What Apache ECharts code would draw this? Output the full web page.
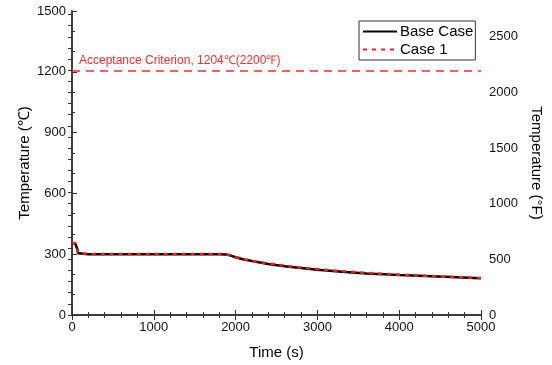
<!DOCTYPE html>
<html>
<head>
<meta charset="utf-8">
<script src="https://cdn.jsdelivr.net/npm/echarts@6/dist/echarts.min.js"></script>
<style>
  html, body { margin: 0; padding: 0; background: #fff; }
  #chart { width: 552px; height: 365px; }
</style>
</head>
<body>
<div id="chart"></div>
<script>
// time (s) and temperature (°C)
const baseTime = [0, 40, 55, 65, 75, 90, 200, 600, 1000, 1400, 1800, 1880, 1950, 2000, 2100, 2200, 2400, 2600, 2800, 3000, 3300, 3600, 4000, 4400, 4700, 5000];
const baseTemp = [355, 353, 348, 325, 305, 300, 300, 300, 300, 300, 300, 299, 292, 285, 274, 266, 252, 241, 232, 223, 213, 205, 197, 191, 186, 181];
const case1Time = [0, 40, 55, 65, 75, 90, 200, 600, 1000, 1400, 1800, 1880, 1950, 2000, 2100, 2200, 2400, 2600, 2800, 3000, 3300, 3600, 4000, 4400, 4700, 5000];
const case1Temp = [356, 354, 349, 326, 306, 301, 301, 301, 301, 301, 301, 300, 293, 286, 275, 267, 254, 243, 234, 226, 216, 208, 199, 192, 187, 182];
const criterionC = 1204;
const fMax = 2732; // 1500 °C in °F, right axis shares the same span

const zip = (xs, ys) => xs.map((x, i) => [x, ys[i]]);

const chart = echarts.init(document.getElementById('chart'));
const font = 'Liberation Sans, Arial, sans-serif';
const axisColor = '#333';
const plain = v => String(v);

chart.setOption({
  animation: false,
  textStyle: { fontFamily: font },
  grid: { left: 72, right: 68, top: 11, bottom: 50 },
  legend: {
    orient: 'vertical',
    left: 359,
    top: 21,
    padding: [3, 2, 3, 3],
    itemGap: 3,
    itemWidth: 34,
    itemHeight: 14,
    borderColor: '#333',
    borderWidth: 1,
    itemStyle: { opacity: 0 },
    textStyle: { fontSize: 15, color: '#000', fontFamily: font, padding: [0, 0, 0, -2] },
    data: ['Base Case', 'Case 1']
  },
  xAxis: [
    {
      type: 'value', min: 0, max: 5000, interval: 1000,
      name: 'Time (s)', nameLocation: 'middle', nameGap: 30,
      nameTextStyle: { fontSize: 15, color: '#000' },
      axisLine: { lineStyle: { color: axisColor, width: 1.5 } },
      axisTick: { inside: true, length: 5, lineStyle: { color: axisColor } },
      minorTick: { show: true, splitNumber: 5, length: 3, lineStyle: { color: axisColor } },
      axisLabel: { fontSize: 13, color: '#111', margin: 6, formatter: plain },
      splitLine: { show: false }
    },
    {
      type: 'value', position: 'top', min: 0, max: 5000, interval: 1000,
      axisLine: { lineStyle: { color: axisColor, width: 1.5 } },
      axisTick: { inside: true, length: 5, lineStyle: { color: axisColor } },
      minorTick: { show: true, splitNumber: 5, length: 3, lineStyle: { color: axisColor } },
      axisLabel: { show: false },
      splitLine: { show: false }
    }
  ],
  yAxis: [
    {
      type: 'value', min: 0, max: 1500, interval: 300,
      name: 'Temperature (℃)', nameLocation: 'middle', nameGap: 40, nameMoveOverlap: false,
      nameTextStyle: { fontSize: 15, color: '#000' },
      axisLine: { show: true, lineStyle: { color: axisColor, width: 1.5 } },
      axisTick: { inside: true, length: 5, lineStyle: { color: axisColor } },
      minorTick: { show: true, splitNumber: 3, length: 3, lineStyle: { color: axisColor } },
      axisLabel: { fontSize: 13, color: '#111', margin: 6, formatter: plain },
      splitLine: { show: false }
    },
    {
      type: 'value', position: 'right', min: 0, max: fMax, interval: 100,
      name: 'Temperature (°F)', nameLocation: 'middle', nameGap: 48, nameRotate: -90,
      nameTextStyle: { fontSize: 15, color: '#000' },
      axisLine: { show: true, lineStyle: { color: axisColor, width: 1.5 } },
      axisTick: { inside: true, length: 4, lineStyle: { color: axisColor } },
      axisLabel: {
        fontSize: 13, color: '#111', margin: 8, showMaxLabel: false,
        formatter: v => (v % 500 === 0 ? String(v) : '')
      },
      splitLine: { show: false }
    }
  ],
  series: [
    {
      name: 'Base Case', type: 'line', data: zip(baseTime, baseTemp),
      symbol: 'none', z: 2,
      lineStyle: { color: '#000', width: 2.5 },
      itemStyle: { color: '#000' },
      markLine: {
        silent: true, symbol: 'none',
        lineStyle: { color: '#ff2a2a', width: 1.5, type: [8, 6] },
        label: {
          position: 'insideStartTop', distance: [7, 4],
          formatter: 'Acceptance Criterion, 1204℃(2200℉)',
          color: '#ff2a2a', fontSize: 12, fontFamily: font
        },
        data: [{ yAxis: criterionC }]
      }
    },
    {
      name: 'Case 1', type: 'line', data: zip(case1Time, case1Temp),
      symbol: 'none', z: 3,
      lineStyle: { color: '#ff1a1a', width: 2.5, type: [4, 5] },
      itemStyle: { color: '#ff1a1a' }
    }
  ]
});
</script>
</body>
</html>
